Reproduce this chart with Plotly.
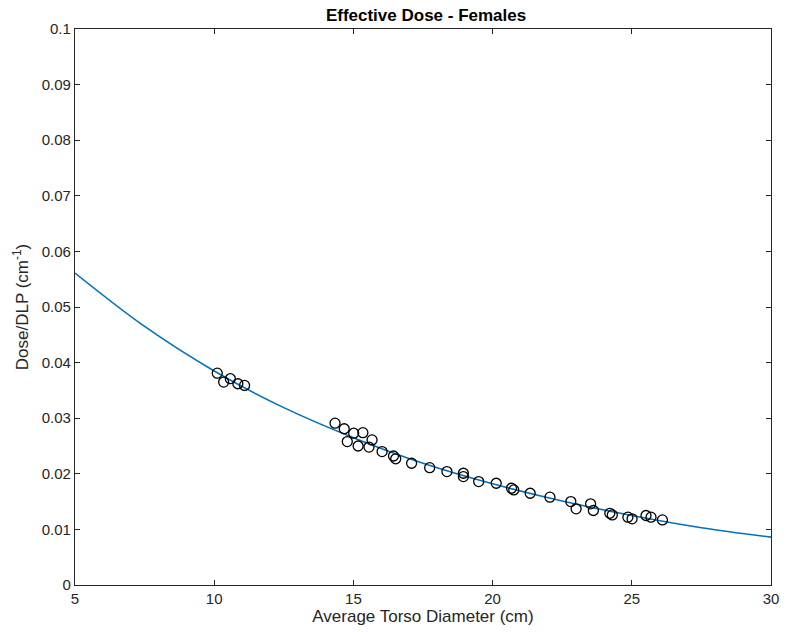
import plotly.graph_objects as go

# Measured data points (Average torso diameter in cm, Dose/DLP in cm^-1)
diameter = [10.11, 10.34, 10.58, 10.85, 11.09,
            14.34, 14.67, 15.01, 15.34, 14.78, 15.17, 15.56, 15.67, 16.03,
            16.44, 16.52, 17.09, 17.74, 18.36, 18.95, 18.95, 19.50, 20.13,
            20.68, 20.76, 21.35, 22.06, 22.81, 23.00, 23.52, 23.62, 24.21,
            24.30, 24.86, 25.01, 25.51, 25.69, 26.10]
dose_dlp = [0.0381, 0.0365, 0.0371, 0.0362, 0.0359,
            0.0291, 0.0281, 0.0273, 0.0274, 0.0258, 0.0250, 0.0248, 0.0261, 0.0240,
            0.0232, 0.0227, 0.0219, 0.0211, 0.0204, 0.0201, 0.0195, 0.0186, 0.0183,
            0.0174, 0.0171, 0.0165, 0.0158, 0.0150, 0.0137, 0.0146, 0.0134, 0.0129,
            0.0126, 0.0122, 0.0119, 0.0125, 0.0122, 0.0117]

# Fit curve values
fit_x = [5, 7.5, 10, 12.5, 15, 17.5, 20, 22.5, 25, 27.5, 30]
fit_y = [0.0561, 0.0465, 0.0385, 0.0319, 0.0265, 0.0219, 0.0182, 0.0151, 0.0125, 0.0103, 0.0086]

x_ticks = [5, 10, 15, 20, 25, 30]
y_ticks = [0, 0.01, 0.02, 0.03, 0.04, 0.05, 0.06, 0.07, 0.08, 0.09, 0.1]
y_tick_labels = ["0", "0.01", "0.02", "0.03", "0.04", "0.05", "0.06", "0.07", "0.08", "0.09", "0.1"]

FONT = "Liberation Sans, Arial, Helvetica, sans-serif"
AXIS_COLOR = "#262626"

fig = go.Figure()
fig.add_trace(go.Scatter(
    x=fit_x, y=fit_y, mode="lines", line=dict(color="#0072BD", width=1.6, shape="spline"),
    showlegend=False, hoverinfo="skip"))
fig.add_trace(go.Scatter(
    x=diameter, y=dose_dlp, mode="markers",
    marker=dict(symbol="circle-open", size=10, color="black", line=dict(width=1.3, color="black")),
    showlegend=False))

axis_common = dict(
    showgrid=False, zeroline=False, showline=True, linecolor=AXIS_COLOR, linewidth=1.3,
    mirror="ticks", ticks="inside", ticklen=5, tickwidth=1.2, tickcolor=AXIS_COLOR,
    tickfont=dict(family=FONT, size=15, color="#262626"),
)

fig.update_layout(
    width=789, height=632,
    margin=dict(l=75, r=10, t=29, b=47),
    paper_bgcolor="white", plot_bgcolor="white",
    title=dict(text="<b>Effective Dose - Females</b>", x=0.54, xanchor="center",
               y=0.976, yanchor="middle", font=dict(family=FONT, size=17, color="black")),
    xaxis=dict(range=[5, 30], tickvals=x_ticks,
               title=dict(text="Average Torso Diameter (cm)", standoff=1,
                          font=dict(family=FONT, size=17, color="#262626")),
               **axis_common),
    yaxis=dict(range=[0, 0.1], tickvals=y_ticks, ticktext=y_tick_labels,
               title=dict(text="Dose/DLP (cm<sup>-1</sup>)", standoff=8,
                          font=dict(family=FONT, size=17, color="#262626")),
               **axis_common),
)

fig.write_html("out.html", config={"displayModeBar": False},
               post_script="document.body.style.margin='0';document.body.style.overflow='hidden';")
